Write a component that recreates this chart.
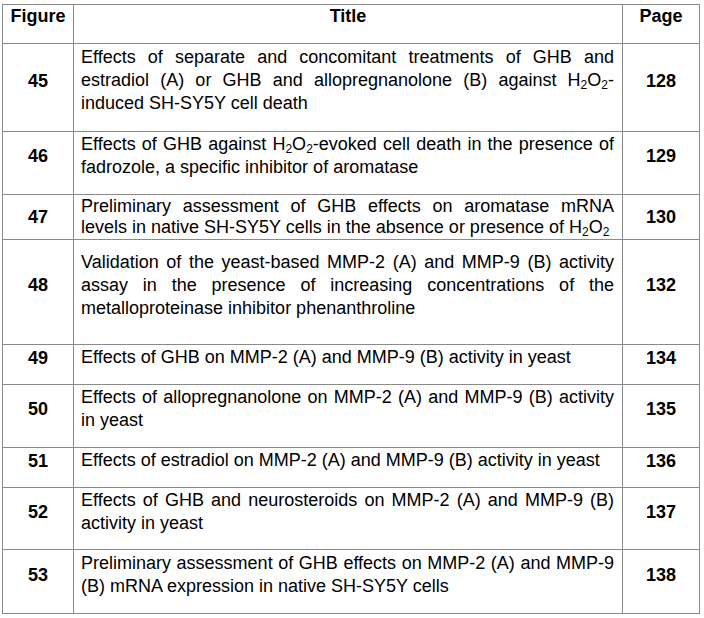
import React from "react";

// Table of figures (figure number, title, page)
const figures = ["45", "46", "47", "48", "49", "50", "51", "52", "53"];

const titles = [
  "Effects of separate and concomitant treatments of GHB and estradiol (A) or GHB and allopregnanolone (B) against H2O2-induced SH-SY5Y cell death",
  "Effects of GHB against H2O2-evoked cell death in the presence of fadrozole, a specific inhibitor of aromatase",
  "Preliminary assessment of GHB effects on aromatase mRNA levels in native SH-SY5Y cells in the absence or presence of H2O2",
  "Validation of the yeast-based MMP-2 (A) and MMP-9 (B) activity assay in the presence of increasing concentrations of the metalloproteinase inhibitor phenanthroline",
  "Effects of GHB on MMP-2 (A) and MMP-9 (B) activity in yeast",
  "Effects of allopregnanolone on MMP-2 (A) and MMP-9 (B) activity in yeast",
  "Effects of estradiol on MMP-2 (A) and MMP-9 (B) activity in yeast",
  "Effects of GHB and neurosteroids on MMP-2 (A) and MMP-9 (B) activity in yeast",
  "Preliminary assessment of GHB effects on MMP-2 (A) and MMP-9 (B) mRNA expression in native SH-SY5Y cells",
];

const pages = ["128", "129", "130", "132", "134", "135", "136", "137", "138"];

const headers = ["Figure", "Title", "Page"];

// layout only
const rowHeights = [88, 63, 45, 105, 40, 63, 40, 62, 64];
const spaceAfter = [14, 14, 0, 14, 14, 14, 14, 14, 14];

const border = "1px solid #8a8a8a";

const sub: React.CSSProperties = { fontSize: 12, verticalAlign: "-3px", lineHeight: "10px" };

// render H2O2 with subscripts
function Chem({ text }: { text: string }) {
  const parts = text.split("H2O2");
  return (
    <>
      {parts.map((p, i) => (
        <React.Fragment key={i}>
          {p}
          {i < parts.length - 1 && (
            <>
              H<sub style={sub}>2</sub>O<sub style={sub}>2</sub>
            </>
          )}
        </React.Fragment>
      ))}
    </>
  );
}

const cell: React.CSSProperties = {
  border,
  padding: "0 7px",
  verticalAlign: "middle",
  boxSizing: "border-box",
  overflow: "hidden",
};

export default function App() {
  return (
    <div
      style={{
        position: "absolute",
        left: 2,
        top: 4,
        fontFamily: "'Liberation Sans', Arial, sans-serif",
        fontSize: 18,
        color: "#000",
        background: "#fff",
      }}
    >
      <table style={{ borderCollapse: "collapse", tableLayout: "fixed", width: 697 }}>
        <colgroup>
          <col style={{ width: 71 }} />
          <col style={{ width: 549 }} />
          <col style={{ width: 77 }} />
        </colgroup>
        <thead>
          <tr style={{ height: 39 }}>
            {headers.map((h) => (
              <th key={h} style={{ ...cell, lineHeight: "22px", textAlign: "center", fontWeight: "bold", paddingBottom: 16 }}>
                {h}
              </th>
            ))}
          </tr>
        </thead>
        <tbody>
          {figures.map((f, i) => (
            <tr key={f} style={{ height: rowHeights[i] }}>
              <td style={{ ...cell, lineHeight: "22px", textAlign: "center", fontWeight: "bold", paddingBottom: spaceAfter[i] }}>{f}</td>
              <td
                style={{
                  ...cell,
                  lineHeight: spaceAfter[i] ? "23px" : "21px",
                  textAlign: "justify",
                  paddingLeft: 7,
                  paddingRight: 8,
                  paddingBottom: spaceAfter[i],
                }}
              >
                <Chem text={titles[i]} />
              </td>
              <td style={{ ...cell, lineHeight: "22px", textAlign: "center", fontWeight: "bold", paddingBottom: spaceAfter[i] }}>
                {pages[i]}
              </td>
            </tr>
          ))}
        </tbody>
      </table>
    </div>
  );
}
